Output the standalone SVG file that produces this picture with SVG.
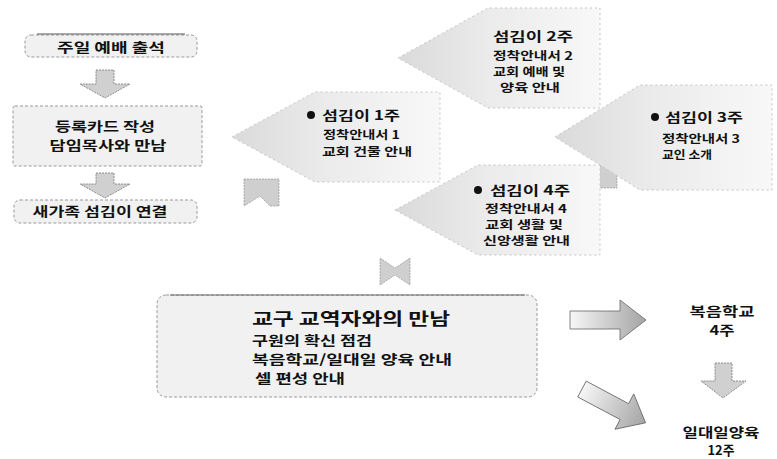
<svg xmlns="http://www.w3.org/2000/svg" width="777" height="459" viewBox="0 0 777 459">
<style>
text{font-family:"Noto Sans CJK KR","Noto Sans",sans-serif;font-weight:bold;fill:#111}
.box{fill:#f1f1f1;stroke:#999;stroke-width:1;stroke-dasharray:3 2}
.chev{fill:url(#chevg);stroke:#c4c4c4;stroke-width:1;stroke-dasharray:2 3}
.arr{fill:url(#arrg);stroke:#666;stroke-width:0.8}
.darr{fill:#d0d0d0;stroke:#777;stroke-width:0.8;stroke-dasharray:2 1}
.t13{font-size:13px}
.t11{font-size:11px}
.t17{font-size:17px}
.blk{fill:#cfcfcf;stroke:#888;stroke-width:0.6;stroke-dasharray:2 1}
</style>
<defs>
<linearGradient id="chevg" x1="0" y1="0" x2="1" y2="0">
<stop offset="0" stop-color="#dadada"/>
<stop offset="0.45" stop-color="#ebebeb"/>
<stop offset="1" stop-color="#f8f8f8"/>
</linearGradient>
<linearGradient id="arrg" x1="0" y1="0" x2="1" y2="0">
<stop offset="0" stop-color="#f6f6f6"/>
<stop offset="1" stop-color="#a4a4a4"/>
</linearGradient>
</defs>
<rect width="777" height="459" fill="#fff"/>

<g id="connectors">
<path class="darr" d="M96 70 H114 V84 H130 L105 98 L80 84 H96 Z"/>
<path class="darr" d="M96 173 H114 V184 H130 L105 198 L80 184 H96 Z"/>
<path class="blk" d="M244 179 H279 V206 H270 L260 196 L244 206 Z"/>
<path class="blk" d="M584 166 H617 V188 H600 L584 178 Z"/>
<path class="blk" d="M380 258 L395 268 L410 258 V285 L395 275 L380 285 Z"/>
<path class="arr" d="M570 311 H620 V300 L646 320 L620 340 V329 H570 Z"/>
<path class="arr" transform="rotate(28 612 405)" d="M578 396 H626 V385 L650 405 L626 425 V414 H578 Z"/>
<path class="darr" d="M715 363 H732 V381 H746 L723 398 L701 381 H715 Z"/>
</g>

<g id="n-worship">
<rect class="box" x="25" y="35" width="172" height="22" rx="6"/>
<line x1="37" y1="34" x2="185" y2="34" stroke="#555" stroke-width="1"/>
<text class="t13" x="111" y="52" text-anchor="middle" textLength="108" lengthAdjust="spacingAndGlyphs">주일 예배 출석</text>
</g>

<g id="n-register">
<rect class="box" x="13" y="106" width="189" height="60" rx="2"/>
<text class="t13" x="105" y="131" text-anchor="middle" textLength="100" lengthAdjust="spacingAndGlyphs">등록카드 작성</text>
<text class="t13" x="108" y="150" text-anchor="middle" textLength="117" lengthAdjust="spacingAndGlyphs">담임목사와 만남</text>
</g>

<g id="n-connect">
<rect class="box" x="14" y="200" width="183" height="23" rx="6"/>
<text class="t13" x="100" y="216" text-anchor="middle" textLength="135" lengthAdjust="spacingAndGlyphs">새가족 섬김이 연결</text>
</g>

<g id="n-week2">
<polygon class="chev" points="398,58 488,8 600,8 600,108 488,108"/>
<text class="t13" x="493" y="41" textLength="80" lengthAdjust="spacingAndGlyphs">섬김이 2주</text>
<text class="t11" x="493" y="60" textLength="80" lengthAdjust="spacingAndGlyphs">정착안내서 2</text>
<text class="t11" x="493" y="76" textLength="72" lengthAdjust="spacingAndGlyphs">교회 예배 및</text>
<text class="t11" x="500" y="92" textLength="60" lengthAdjust="spacingAndGlyphs">양육 안내</text>
</g>

<g id="n-week1">
<polygon class="chev" points="232,137 315,92 440,92 440,182 315,182"/>
<circle cx="311" cy="115" r="4" fill="#111"/>
<text class="t13" x="322" y="120" textLength="78" lengthAdjust="spacingAndGlyphs">섬김이 1주</text>
<text class="t11" x="323" y="139" textLength="77" lengthAdjust="spacingAndGlyphs">정착안내서 1</text>
<text class="t11" x="322" y="156" textLength="90" lengthAdjust="spacingAndGlyphs">교회 건물 안내</text>
</g>

<g id="n-week3">
<polygon class="chev" points="555,137 640,85 772,85 772,190 640,190"/>
<circle cx="655" cy="117" r="4" fill="#111"/>
<text class="t13" x="665" y="122" textLength="78" lengthAdjust="spacingAndGlyphs">섬김이 3주</text>
<text class="t11" x="662" y="143" textLength="78" lengthAdjust="spacingAndGlyphs">정착안내서 3</text>
<text class="t11" x="662" y="159" textLength="50" lengthAdjust="spacingAndGlyphs">교인 소개</text>
</g>

<g id="n-week4">
<polygon class="chev" points="395,210 478,165 600,165 600,255 478,255"/>
<circle cx="478" cy="190" r="4" fill="#111"/>
<text class="t13" x="490" y="195" textLength="80" lengthAdjust="spacingAndGlyphs">섬김이 4주</text>
<text class="t11" x="485" y="213" textLength="82" lengthAdjust="spacingAndGlyphs">정착안내서 4</text>
<text class="t11" x="485" y="229" textLength="78" lengthAdjust="spacingAndGlyphs">교회 생활 및</text>
<text class="t11" x="483" y="245" textLength="87" lengthAdjust="spacingAndGlyphs">신앙생활 안내</text>
</g>

<g id="n-meeting">
<rect class="box" x="157" y="295" width="380" height="102" rx="9"/>
<line x1="170" y1="295" x2="525" y2="295" stroke="#666" stroke-width="1"/>
<text class="t17" x="252" y="325" textLength="198" lengthAdjust="spacingAndGlyphs">교구 교역자와의 만남</text>
<text class="t13" x="252" y="345" textLength="120" lengthAdjust="spacingAndGlyphs">구원의 확신 점검</text>
<text class="t13" x="252" y="364" textLength="200" lengthAdjust="spacingAndGlyphs">복음학교/일대일 양육 안내</text>
<text class="t13" x="255" y="383" textLength="90" lengthAdjust="spacingAndGlyphs">셀 편성 안내</text>
</g>

<g id="n-gospel">
<text class="t13" x="722" y="316" text-anchor="middle" textLength="65" lengthAdjust="spacingAndGlyphs">복음학교</text>
<text class="t13" x="722" y="335" text-anchor="middle" textLength="25" lengthAdjust="spacingAndGlyphs">4주</text>
</g>

<g id="n-onetoone">
<text class="t13" x="721" y="437" text-anchor="middle" textLength="77" lengthAdjust="spacingAndGlyphs">일대일양육</text>
<text class="t13" x="721" y="455" text-anchor="middle" textLength="27" lengthAdjust="spacingAndGlyphs">12주</text>
</g>
</svg>
